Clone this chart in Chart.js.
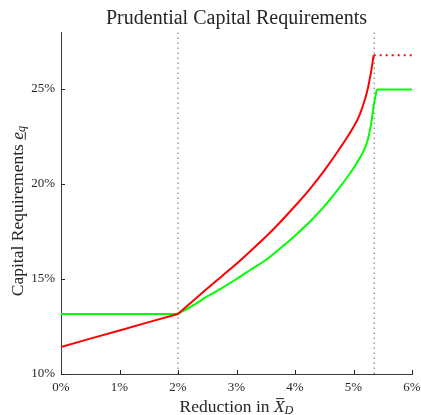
<!DOCTYPE html>
<html>
<head>
<meta charset="utf-8">
<script src="https://cdn.jsdelivr.net/npm/chart.js@4.4.1/dist/chart.umd.min.js"></script>
<style>
  html, body { margin: 0; padding: 0; background: #fff; }
  #wrap { width: 421px; height: 415px; }
</style>
</head>
<body>
<div id="wrap"><canvas id="chart"></canvas></div>
<script>
// values (percent)
const redX   = [0, 0.5, 1, 1.5, 2, 2.25, 2.5, 2.75, 3, 3.25, 3.5, 3.75, 4, 4.25, 4.5, 4.75, 5, 5.1, 5.2, 5.25, 5.3, 5.345];
const redY   = [11.42, 11.86, 12.29, 12.73, 13.16, 13.83, 14.5, 15.15, 15.8, 16.5, 17.22, 18.0, 18.84, 19.72, 20.7, 21.8, 23.0, 23.6, 24.5, 25.1, 25.9, 26.78];
const greenX = [0, 2, 2.25, 2.5, 2.75, 3, 3.25, 3.5, 3.75, 4, 4.25, 4.5, 4.75, 5, 5.1, 5.2, 5.25, 5.3, 5.35, 5.4, 6];
const greenY = [13.16, 13.16, 13.6, 14.08, 14.52, 15.0, 15.5, 16.0, 16.62, 17.28, 18.0, 18.82, 19.77, 20.83, 21.33, 21.93, 22.4, 23.15, 24.2, 24.98, 24.98];
const capX   = [5.345, 6];
const capY   = [26.78, 26.78];
const thresholds = [2, 5.355];
const xMin = 0, xMax = 6, xStep = 1;
const yMin = 10, yMax = 28, yStep = 5;

const serif = "'Liberation Serif', 'DejaVu Serif', serif";
const ink = '#262626';

const pts = (xs, ys) => xs.map((x, i) => ({ x: x, y: ys[i] }));
// split a series at the kinks so the curved part can be smoothed on its own
const before = (xs, ys, k) => pts(xs, ys).filter(p => p.x <= k);
const between = (xs, ys, a, b) => pts(xs, ys).filter(p => p.x >= a && p.x <= b);
const after = (xs, ys, k) => pts(xs, ys).filter(p => p.x >= k);

function line(data, color, extra) {
  return Object.assign({
    data: data,
    showLine: true,
    borderColor: color,
    borderWidth: 2,
    pointRadius: 0
  }, extra || {});
}

const guideSets = thresholds.map(t => line(
  [{ x: t, y: yMin }, { x: t, y: yMax }], '#9a9a9a',
  { borderWidth: 1.5, borderDash: [1.5, 3.5], order: 3 }
));

// draws a run of text pieces (italic / subscript / underline / bar)
function drawRuns(ctx, runs, cx, cy, size, rotate) {
  const fontFor = r => (r.italic ? 'italic ' : '') + (r.sub ? size * 0.7 : size) + 'px ' + serif;
  let total = 0;
  runs.forEach(r => { ctx.font = fontFor(r); r.w = ctx.measureText(r.text).width; total += r.w; });
  ctx.save();
  ctx.translate(cx, cy);
  if (rotate) ctx.rotate(-Math.PI / 2);
  ctx.fillStyle = ink;
  ctx.textBaseline = 'alphabetic';
  ctx.textAlign = 'left';
  const base = size * 0.33;
  let x = -total / 2;
  runs.forEach(r => {
    ctx.font = fontFor(r);
    ctx.fillText(r.text, x, r.sub ? base + size * 0.15 : base);
    if (r.underline) ctx.fillRect(x, base + 2, r.w, 1);
    if (r.bar) ctx.fillRect(x + r.w * 0.2, base - size * 0.78, r.w * 0.75, 1);
    x += r.w;
  });
  ctx.restore();
}

const decorations = {
  id: 'decorations',
  afterDraw(chart) {
    const ctx = chart.ctx;
    const xs = chart.scales.x, ys = chart.scales.y;
    const area = chart.chartArea;
    // inward tick marks
    ctx.save();
    ctx.strokeStyle = ink;
    ctx.lineWidth = 1;
    ctx.beginPath();
    xs.ticks.forEach(t => {
      const px = Math.round(xs.getPixelForValue(t.value)) + 0.5;
      ctx.moveTo(px, area.bottom); ctx.lineTo(px, area.bottom - 4);
    });
    ys.ticks.forEach(t => {
      const py = Math.round(ys.getPixelForValue(t.value)) + 0.5;
      ctx.moveTo(area.left, py); ctx.lineTo(area.left + 4, py);
    });
    ctx.stroke();
    ctx.restore();

    const midX = (area.left + area.right) / 2;
    drawRuns(ctx, [{ text: 'Prudential Capital Requirements' }], midX, 17, 20, false);
    drawRuns(ctx, [{ text: 'Reduction in ' }, { text: 'X', italic: true, bar: true }, { text: 'D', italic: true, sub: true }],
      midX, 406, 17.5, false);
    drawRuns(ctx, [{ text: 'Capital Requirements ' }, { text: 'e', italic: true, underline: true }, { text: 'q', italic: true, sub: true }],
      17, 211, 17.5, true);
  }
};

const smooth = { cubicInterpolationMode: 'monotone' };

new Chart(document.getElementById('chart'), {
  type: 'scatter',
  data: {
    datasets: [
      line(before(redX, redY, 2), '#ff0000', { order: 1 }),
      line(after(redX, redY, 2), '#ff0000', Object.assign({ order: 1 }, smooth)),
      line(pts(capX, capY), '#ff0000', { borderDash: [2, 4], order: 1 }),
      line(before(greenX, greenY, 2), '#00ff00', { order: 2 }),
      line(between(greenX, greenY, 2, 5.4), '#00ff00', Object.assign({ order: 2 }, smooth)),
      line(after(greenX, greenY, 5.4), '#00ff00', { order: 2 }),
      ...guideSets
    ]
  },
  options: {
    responsive: true,
    maintainAspectRatio: false,
    animation: false,
    events: [],
    layout: { padding: { left: 0, right: 9, top: 32, bottom: 0 } },
    plugins: { legend: { display: false }, tooltip: { enabled: false } },
    scales: {
      x: {
        type: 'linear',
        min: xMin, max: xMax,
        grid: { display: false, drawTicks: false },
        border: { display: true, color: '#3a3a3a', width: 1 },
        ticks: {
          stepSize: xStep,
          padding: 6,
          color: ink,
          font: { family: serif, size: 13 },
          callback: v => v + '%'
        },
        afterFit: s => { s.height = 41; s.paddingLeft = 0; s.paddingRight = 0; }
      },
      y: {
        type: 'linear',
        min: yMin, max: yMax,
        grid: { display: false, drawTicks: false },
        border: { display: true, color: '#3a3a3a', width: 1 },
        ticks: {
          stepSize: yStep,
          includeBounds: false,
          padding: 6,
          color: ink,
          font: { family: serif, size: 13 },
          callback: v => v + '%'
        },
        afterFit: s => { s.width = 61; s.paddingTop = 0; s.paddingBottom = 0; }
      }
    }
  },
  plugins: [decorations]
});
</script>
</body>
</html>
